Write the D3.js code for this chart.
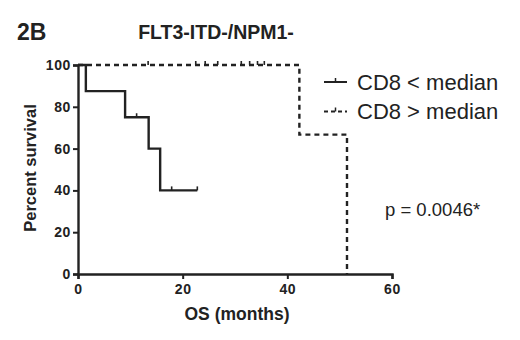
<!DOCTYPE html>
<html>
<head>
<meta charset="utf-8">
<script src="https://cdn.jsdelivr.net/npm/d3@7"></script>
<style>
  body { margin: 0; background: #fff; }
  text { font-family: "Liberation Sans", Arial, sans-serif; fill: #222; }
</style>
</head>
<body>
<script>
// Kaplan-Meier steps (months, percent)
var lowTimes = [0, 1.5, 9, 13.5, 15.7, 22.8];
var lowSurv = [100, 87.5, 75, 60, 40, 40];
var lowCensT = [11.2, 17.9, 22.8];
var lowCensS = [75, 40, 40];

var highTimes = [0, 42.3, 51.4];
var highSurv = [100, 66.7, 0];
var highCensT = [13.4, 22.5, 24.3, 26.7, 31.2, 32.8, 34.3, 35.6];
var highCensS = [100, 100, 100, 100, 100, 100, 100, 100];

var xTicks = [0, 20, 40, 60];
var yTicks = [0, 20, 40, 60, 80, 100];
var legendLabels = ["CD8 < median", "CD8 > median"];

var svg = d3.select("body").append("svg")
    .attr("width", 520)
    .attr("height", 340);

var x = d3.scaleLinear().domain([0, 60]).range([78, 392]);
var y = d3.scaleLinear().domain([0, 100]).range([274, 65]);

var ink = "#222";

// axes
var xAxis = svg.append("g").attr("transform", "translate(0,274)")
    .call(d3.axisBottom(x).tickValues(xTicks).tickSize(5).tickPadding(5));
var yAxis = svg.append("g").attr("transform", "translate(78,0)")
    .call(d3.axisLeft(y).tickValues(yTicks).tickSize(5).tickPadding(2));
[xAxis, yAxis].forEach(function(a){
  a.select(".domain").attr("stroke", ink).attr("stroke-width", 2.4);
  a.selectAll(".tick line").attr("stroke", ink).attr("stroke-width", 2);
  a.selectAll(".tick text").style("font-size", "14px").style("font-weight", "bold")
    .style("letter-spacing", "0.6px")
    .attr("fill", ink).style("font-family", "'Liberation Sans', Arial, sans-serif");
});

// curves
var line = d3.line().x(function(d){ return x(d[0]); }).y(function(d){ return y(d[1]); })
    .curve(d3.curveStepAfter);

svg.append("path").datum(d3.zip(lowTimes, lowSurv))
    .attr("d", line).attr("fill", "none").attr("stroke", ink).attr("stroke-width", 2.4);
svg.append("path").datum(d3.zip(highTimes, highSurv))
    .attr("d", line).attr("fill", "none").attr("stroke", ink).attr("stroke-width", 2.4)
    .attr("stroke-dasharray", "5,4");

// censor ticks
function censor(ts, ss){
  svg.append("g").selectAll("line").data(d3.zip(ts, ss)).enter().append("line")
    .attr("x1", function(d){ return x(d[0]); }).attr("x2", function(d){ return x(d[0]); })
    .attr("y1", function(d){ return y(d[1]); }).attr("y2", function(d){ return y(d[1]) - 4; })
    .attr("stroke", ink).attr("stroke-width", 1.6);
}
censor(lowCensT, lowCensS);
censor(highCensT, highCensS);

// legend
var leg = svg.append("g");
legendLabels.forEach(function(lab, i){
  var ly = 82 + i * 29.5;
  leg.append("line").attr("x1", 324).attr("x2", 347).attr("y1", ly).attr("y2", ly)
    .attr("stroke", ink).attr("stroke-width", 2)
    .attr("stroke-dasharray", i == 1 ? "4,3" : null);
  leg.append("line").attr("x1", 335.5).attr("x2", 335.5).attr("y1", ly).attr("y2", ly - 4)
    .attr("stroke", ink).attr("stroke-width", 1.5);
  leg.append("text").attr("x", 357).attr("y", ly + 7.5).text(lab).style("font-size", "22px");
});

svg.append("text").attr("x", 385).attr("y", 216).text("p = 0.0046*").style("font-size", "18.5px");

// titles and axis labels
svg.append("text").attr("x", 17).attr("y", 40).text("2B")
    .style("font-size", "23px").style("font-weight", "bold");
svg.append("text").attr("x", 216).attr("y", 38.5).attr("text-anchor", "middle").text("FLT3-ITD-/NPM1-")
    .style("font-size", "19.5px").style("font-weight", "bold");
svg.append("text").attr("x", 237).attr("y", 320).attr("text-anchor", "middle").text("OS (months)")
    .style("font-size", "17.5px").style("font-weight", "bold");
svg.append("text").attr("transform", "translate(36,168) rotate(-90)").attr("text-anchor", "middle")
    .text("Percent survival").style("font-size", "16.5px").style("font-weight", "bold");
</script>
</body>
</html>
